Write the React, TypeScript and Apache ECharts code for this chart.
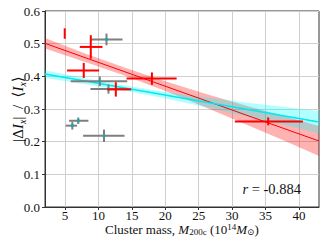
import React, { useEffect, useRef } from 'react';
import * as echarts from 'echarts';

// Red points (value, error)
const redX = [4.95, 8.85, 7.8, 18.0, 12.6, 35.4];
const redY = [0.531, 0.49, 0.418, 0.393, 0.36, 0.262];
const redXLo = [4.95, 7.2, 5.3, 14.2, 11.3, 30.4];
const redXHi = [4.95, 10.6, 10.1, 21.7, 14.9, 40.6];
const redYErr = [0.016, 0.036, 0.023, 0.019, 0.022, 0.012];

// Gray points with cyan centres
const grayX = [11.2, 10.2, 11.5, 6.98, 6.09, 10.83];
const grayY = [0.513, 0.385, 0.361, 0.264, 0.249, 0.218];
const grayXLo = [8.8, 5.85, 8.8, 5.6, 5.1, 7.7];
const grayXHi = [13.6, 14.3, 14.6, 8.5, 6.8, 13.9];
const grayYErr = [0.018, 0.015, 0.014, 0.01, 0.012, 0.019];

// Fit lines
const fitX = [2, 43];
const redFitY = [0.501, 0.202];
const cyanFitY = [0.407, 0.26];

// Confidence bands
const bandX = [2, 8, 14, 20, 26, 32, 38, 43];
const redUpper = [0.517, 0.47, 0.426, 0.385, 0.347, 0.311, 0.277, 0.248];
const redLower = [0.485, 0.444, 0.402, 0.355, 0.305, 0.253, 0.201, 0.156];
const cyanUpper = [0.419, 0.394, 0.372, 0.352, 0.336, 0.32, 0.306, 0.294];
const cyanLower = [0.395, 0.376, 0.356, 0.332, 0.306, 0.278, 0.25, 0.226];

const xTicks = [5, 10, 15, 20, 25, 30, 35, 40];
const rText = '-0.884';

const FONT = 'Liberation Serif, DejaVu Serif, serif';

function bandSeries(upper: number[], lower: number[], fill: string) {
  return {
    type: 'custom',
    clip: true,
    silent: true,
    z: 1,
    data: [[bandX[0], upper[0]]],
    renderItem: (params: any, api: any) => {
      if (params.dataIndex !== 0) return null;
      const pts: number[][] = [];
      for (let i = 0; i < bandX.length; i++) pts.push(api.coord([bandX[i], upper[i]]));
      for (let i = bandX.length - 1; i >= 0; i--) pts.push(api.coord([bandX[i], lower[i]]));
      return { type: 'polygon', shape: { points: pts }, style: { fill, stroke: 'none' } };
    },
  };
}

function errSeries(xs: number[], ys: number[], xlo: number[], xhi: number[], yerr: number[], color: string, dot: string | null, z: number) {
  return {
    type: 'custom',
    clip: true,
    z,
    data: xs.map((x, i) => [x, ys[i], xlo[i], xhi[i], ys[i] - yerr[i], ys[i] + yerr[i]]),
    renderItem: (params: any, api: any) => {
      const c = api.coord([api.value(0), api.value(1)]);
      const l = api.coord([api.value(2), api.value(1)]);
      const r = api.coord([api.value(3), api.value(1)]);
      const b = api.coord([api.value(0), api.value(4)]);
      const t = api.coord([api.value(0), api.value(5)]);
      const children: any[] = [];
      if (r[0] - l[0] > 0.5) {
        children.push({ type: 'line', shape: { x1: l[0], y1: l[1], x2: r[0], y2: r[1] }, style: { stroke: color, lineWidth: 2 } });
      }
      children.push({ type: 'line', shape: { x1: b[0], y1: b[1], x2: t[0], y2: t[1] }, style: { stroke: color, lineWidth: 2 } });
      if (dot) {
        children.push({ type: 'circle', shape: { cx: c[0], cy: c[1], r: 1.6 }, style: { fill: dot } });
      }
      return { type: 'group', children };
    },
  };
}

export default function App() {
  const ref = useRef<HTMLDivElement>(null);
  useEffect(() => {
    const chart = echarts.init(ref.current!, null, { renderer: 'svg' });
    const base = { fontFamily: FONT, color: '#111' };
    const tickRich = { t: { ...base, fontSize: 13, lineHeight: 12 } };
    const option: any = {
      animation: false,
      textStyle: { fontFamily: FONT },
      grid: {
        left: 45, right: 8, top: 11, bottom: 38,
        outerBoundsMode: 'none',
        containLabel: false,
        show: true, borderColor: '#333', borderWidth: 1, backgroundColor: 'transparent',
      },
      xAxis: {
        type: 'value',
        min: 2,
        max: 43,
        name: '{n|Cluster mass, }{i|M}{sub|200c}{n| (10}{sup|14}{i|M}{sub|⊙}{n|)}',
        nameLocation: 'middle',
        nameGap: 15.5,
        nameMoveOverlap: false,
        nameTextStyle: {
          fontFamily: FONT,
          rich: {
            n: { ...base, fontSize: 13, lineHeight: 14 },
            i: { ...base, fontSize: 13, fontStyle: 'italic', lineHeight: 14 },
            sub: { ...base, fontSize: 9, verticalAlign: 'bottom', lineHeight: 14 },
            sup: { ...base, fontSize: 9, verticalAlign: 'top', lineHeight: 14 },
          },
        },
        axisLine: { show: true, lineStyle: { color: '#333', width: 1 } },
        axisTick: { show: true, length: 3, lineStyle: { color: '#333' }, customValues: xTicks },
        axisLabel: {
          ...base,
          fontSize: 13,
          margin: 2,
          customValues: xTicks,
          formatter: (v: number) => '{t|' + v + '}',
          rich: tickRich,
        },
        splitLine: { show: true, lineStyle: { color: '#cfcfcf', width: 1 } },
      },
      yAxis: {
        type: 'value',
        min: 0,
        max: 0.6,
        interval: 0.1,
        name: '{n||Δ}{i|I}{sub|x}{n||  /  ⟨}{i|I}{sub|x}{n|⟩}',
        nameLocation: 'middle',
        nameRotate: 90,
        nameGap: 18,
        nameMoveOverlap: false,
        nameTextStyle: {
          fontFamily: FONT,
          rich: {
            n: { ...base, fontSize: 15, lineHeight: 18 },
            i: { ...base, fontSize: 15, fontStyle: 'italic', lineHeight: 18 },
            sub: { ...base, fontSize: 10, fontStyle: 'italic', verticalAlign: 'bottom', lineHeight: 18 },
          },
        },
        axisLine: { show: true, lineStyle: { color: '#333', width: 1 } },
        axisTick: { show: true, length: 3, lineStyle: { color: '#333' } },
        axisLabel: {
          ...base,
          fontSize: 13,
          margin: 5,
          formatter: (v: number) => '{t|' + v.toFixed(1) + '}',
          rich: tickRich,
        },
        splitLine: { show: true, lineStyle: { color: '#cfcfcf', width: 1 } },
      },
      graphic: [
        {
          type: 'text',
          right: 26,
          top: 181,
          style: {
            text: '{i|r}{n| = ' + rText + '}',
            rich: {
              i: { fontFamily: FONT, fontSize: 14.5, fontStyle: 'italic', fill: '#111' },
              n: { fontFamily: FONT, fontSize: 14.5, fill: '#111' },
            },
          },
          z: 100,
        },
      ],
      series: [
        bandSeries(redUpper, redLower, 'rgba(255,0,0,0.3)'),
        bandSeries(cyanUpper, cyanLower, 'rgba(0,255,255,0.3)'),
        {
          type: 'line',
          z: 3,
          showSymbol: false,
          silent: true,
          data: fitX.map((x, i) => [x, redFitY[i]]),
          lineStyle: { color: '#ff0000', width: 1 },
        },
        {
          type: 'line',
          z: 3,
          showSymbol: false,
          silent: true,
          data: fitX.map((x, i) => [x, cyanFitY[i]]),
          lineStyle: { color: '#00e8f0', width: 1.5 },
        },
        errSeries(grayX, grayY, grayXLo, grayXHi, grayYErr, '#7f7f7f', '#1aa8a8', 5),
        errSeries(redX, redY, redXLo, redXHi, redYErr, '#ff0000', null, 6),
      ],
    };
    chart.setOption(option);
    return () => chart.dispose();
  }, []);
  return <div ref={ref} style={{ position: 'absolute', left: 0, top: 0, width: 327, height: 245 }} />;
}
